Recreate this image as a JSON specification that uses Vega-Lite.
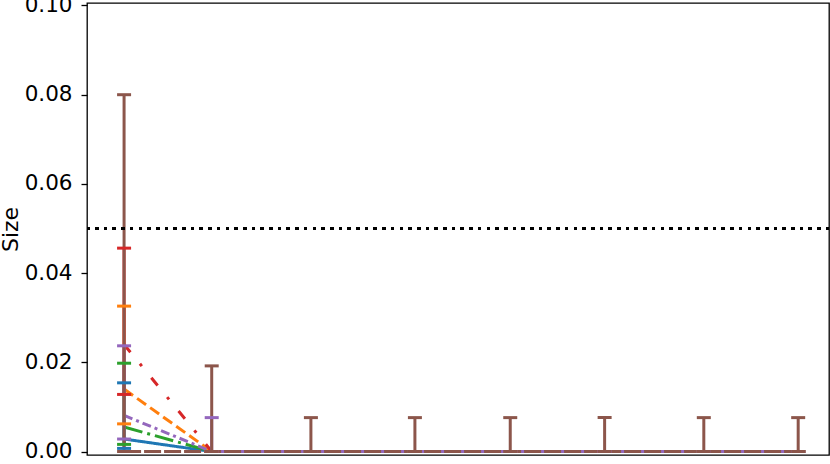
{
  "$schema": "https://vega.github.io/schema/vega-lite/v6.json",
  "width": 742,
  "height": 452,
  "autosize": {"type": "none"},
  "padding": {"left": 87, "top": 3, "right": 1, "bottom": 9},
  "background": "white",
  "config": {
    "view": {"stroke": "black", "strokeWidth": 1.3},
    "font": "DejaVu Sans",
    "axis": {
      "grid": false, "domain": false, "tickColor": "black", "tickSize": 6,
      "tickWidth": 1.3, "labelFontSize": 21.5, "labelColor": "black",
      "labelFont": "DejaVu Sans", "labelPadding": 9,
      "titleFont": "DejaVu Sans", "titleFontSize": 22,
      "titleFontWeight": "normal", "titleColor": "black", "titlePadding": 2
    }
  },
  "data": {
    "values": [
      {"s": "s1", "x": 1.0, "y": 0.0028, "lo": 0.0007, "hi": 0.0154},
      {"s": "s1", "x": 1.91, "y": 0, "lo": 0, "hi": 0},
      {"s": "s1", "x": 2.94, "y": 0, "lo": 0, "hi": 0},
      {"s": "s1", "x": 4.02, "y": 0, "lo": 0, "hi": 0},
      {"s": "s1", "x": 5.01, "y": 0, "lo": 0, "hi": 0},
      {"s": "s1", "x": 5.99, "y": 0, "lo": 0, "hi": 0},
      {"s": "s1", "x": 7.02, "y": 0, "lo": 0, "hi": 0},
      {"s": "s1", "x": 8.0, "y": 0, "lo": 0, "hi": 0},
      {"s": "s2", "x": 1.0, "y": 0.014, "lo": 0.0062, "hi": 0.0326},
      {"s": "s2", "x": 1.91, "y": 0, "lo": 0, "hi": 0},
      {"s": "s2", "x": 2.94, "y": 0, "lo": 0, "hi": 0},
      {"s": "s2", "x": 4.02, "y": 0, "lo": 0, "hi": 0},
      {"s": "s2", "x": 5.01, "y": 0, "lo": 0, "hi": 0},
      {"s": "s2", "x": 5.99, "y": 0, "lo": 0, "hi": 0},
      {"s": "s2", "x": 7.02, "y": 0, "lo": 0, "hi": 0},
      {"s": "s2", "x": 8.0, "y": 0, "lo": 0, "hi": 0},
      {"s": "s3", "x": 1.0, "y": 0.0055, "lo": 0.0016, "hi": 0.0198},
      {"s": "s3", "x": 1.91, "y": 0, "lo": 0, "hi": 0},
      {"s": "s3", "x": 2.94, "y": 0, "lo": 0, "hi": 0},
      {"s": "s3", "x": 4.02, "y": 0, "lo": 0, "hi": 0},
      {"s": "s3", "x": 5.01, "y": 0, "lo": 0, "hi": 0},
      {"s": "s3", "x": 5.99, "y": 0, "lo": 0, "hi": 0},
      {"s": "s3", "x": 7.02, "y": 0, "lo": 0, "hi": 0},
      {"s": "s3", "x": 8.0, "y": 0, "lo": 0, "hi": 0},
      {"s": "s4", "x": 1.0, "y": 0.024, "lo": 0.0128, "hi": 0.0456},
      {"s": "s4", "x": 1.91, "y": 0, "lo": 0, "hi": 0},
      {"s": "s4", "x": 2.94, "y": 0, "lo": 0, "hi": 0},
      {"s": "s4", "x": 4.02, "y": 0, "lo": 0, "hi": 0},
      {"s": "s4", "x": 5.01, "y": 0, "lo": 0, "hi": 0},
      {"s": "s4", "x": 5.99, "y": 0, "lo": 0, "hi": 0},
      {"s": "s4", "x": 7.02, "y": 0, "lo": 0, "hi": 0},
      {"s": "s4", "x": 8.0, "y": 0, "lo": 0, "hi": 0},
      {"s": "s5", "x": 1.0, "y": 0.0081, "lo": 0.0028, "hi": 0.0237},
      {"s": "s5", "x": 1.91, "y": 0, "lo": 0, "hi": 0.0076},
      {"s": "s5", "x": 2.94, "y": 0, "lo": 0, "hi": 0},
      {"s": "s5", "x": 4.02, "y": 0, "lo": 0, "hi": 0},
      {"s": "s5", "x": 5.01, "y": 0, "lo": 0, "hi": 0},
      {"s": "s5", "x": 5.99, "y": 0, "lo": 0, "hi": 0},
      {"s": "s5", "x": 7.02, "y": 0, "lo": 0, "hi": 0},
      {"s": "s5", "x": 8.0, "y": 0, "lo": 0, "hi": 0},
      {"s": "s6", "x": 1.0, "y": 0, "lo": 0, "hi": 0.08},
      {"s": "s6", "x": 1.91, "y": 0, "lo": 0, "hi": 0.0192},
      {"s": "s6", "x": 2.94, "y": 0, "lo": 0, "hi": 0.0076},
      {"s": "s6", "x": 4.02, "y": 0, "lo": 0, "hi": 0.0076},
      {"s": "s6", "x": 5.01, "y": 0, "lo": 0, "hi": 0.0076},
      {"s": "s6", "x": 5.99, "y": 0, "lo": 0, "hi": 0.0076},
      {"s": "s6", "x": 7.02, "y": 0, "lo": 0, "hi": 0.0076},
      {"s": "s6", "x": 8.0, "y": 0, "lo": 0, "hi": 0.0076}
    ]
  },
  "encoding": {
    "x": {"field": "x", "type": "quantitative", "axis": null,
          "scale": {"domain": [0.615, 8.32], "nice": false, "zero": false}},
    "color": {"field": "s", "type": "nominal", "legend": null,
              "scale": {"domain": ["s1", "s2", "s3", "s4", "s5", "s6"],
                        "range": ["#1f77b4", "#ff7f0e", "#2ca02c", "#d62728", "#9467bd", "#8c564b"]}}
  },
  "layer": [
    {
      "mark": {"type": "line", "strokeWidth": 3, "clip": true},
      "encoding": {
        "y": {"field": "y", "type": "quantitative", "title": "Size",
              "scale": {"domain": [-0.00078, 0.10056], "nice": false, "zero": false},
              "axis": {"values": [0, 0.02, 0.04, 0.06, 0.08, 0.1], "format": ".2f", "title": "Size"}},
        "strokeDash": {"field": "s", "type": "nominal", "legend": null,
                       "scale": {"domain": ["s1", "s2", "s3", "s4", "s5", "s6"],
                                 "range": [[1, 0], [11, 5], [19, 5, 3, 5], [10, 15, 3, 15], [9, 4, 3, 4], [17, 3]]}}
      }
    },
    {
      "mark": {"type": "rule", "strokeWidth": 3, "clip": true},
      "encoding": {
        "y": {"field": "lo", "type": "quantitative", "title": "Size"},
        "y2": {"field": "hi"}
      }
    },
    {
      "transform": [{"fold": ["lo", "hi"], "as": ["end", "v"]}],
      "mark": {"type": "tick", "orient": "horizontal", "size": 14, "thickness": 3, "opacity": 1, "clip": true},
      "encoding": {
        "y": {"field": "v", "type": "quantitative", "title": "Size"}
      }
    },
    {
      "mark": {"type": "rule", "color": "black", "strokeWidth": 2.7, "strokeDash": [2.7, 6]},
      "encoding": {"y": {"datum": 0.05, "title": "Size"}, "x": null, "color": null}
    }
  ]
}
